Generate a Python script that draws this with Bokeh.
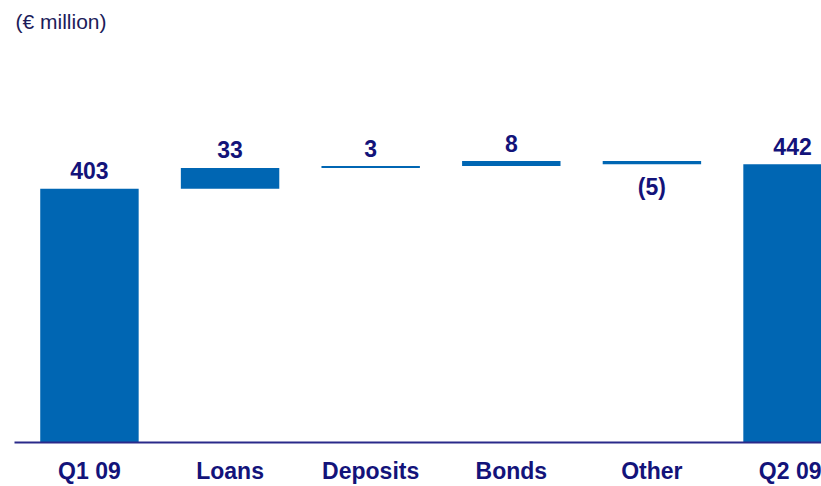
from bokeh.plotting import figure
from bokeh.models import ColumnDataSource, Range1d, FixedTicker, Label
from bokeh.core.properties import value
from bokeh.embed import file_html
from bokeh.resources import INLINE

# ---- data ----
categories = ["Q1 09", "Loans", "Deposits", "Bonds", "Other", "Q2 09"]
changes = [403, 33, 3, 8, -5, 442]
is_total = [True, False, False, False, False, True]
value_labels = ["403", "33", "3", "8", "(5)", "442"]

BAR_COLOR = "#0066b3"
TEXT_COLOR = "#13137a"
AXIS_COLOR = "#2a2a8a"
FONT = "Liberation Sans"

FRAME_H = 442
Y_MAX = 702
PPU = FRAME_H / Y_MAX  # pixels per data unit

# waterfall geometry
xs, bottoms, tops = [], [], []
running = 0
for i, (v, tot) in enumerate(zip(changes, is_total)):
    if tot:
        b, t = 0, v
        running = v
    else:
        b, t = running, running + v
        running = t
    xs.append(i)
    bottoms.append(min(b, t))
    tops.append(max(b, t))

bars = ColumnDataSource(dict(x=xs, bottom=bottoms, top=tops))

lab_x, lab_y, lab_t = [], [], []
for i, v in enumerate(changes):
    lab_x.append(xs[i])
    lab_t.append(value_labels[i])
    if v >= 0:
        lab_y.append(tops[i] + 18 / PPU)
    else:
        lab_y.append(bottoms[i] - 23 / PPU)

p = figure(width=821, height=486, output_backend="svg", toolbar_location=None,
           x_range=Range1d(-0.533, 5.206), y_range=Range1d(0, Y_MAX),
           min_border_left=14, min_border_right=0, min_border_top=0, min_border_bottom=0)
p.outline_line_color = None
p.background_fill_color = "white"
p.border_fill_color = "white"
p.xgrid.visible = False
p.ygrid.visible = False
p.yaxis.visible = False

p.vbar(x="x", bottom="bottom", top="top", width=0.7, source=bars,
       fill_color=BAR_COLOR, line_color=None)

p.text(x=lab_x, y=lab_y, text=lab_t, text_align="center", text_baseline="middle",
       text_font=value(FONT), text_font_style="bold", text_font_size="23px",
       text_color=TEXT_COLOR)

ax = p.xaxis[0]
ax.ticker = FixedTicker(ticks=list(range(len(categories))))
ax.major_label_overrides = {i: c for i, c in enumerate(categories)}
ax.major_tick_line_color = None
ax.minor_tick_line_color = None
ax.major_tick_out = 0
ax.major_tick_in = 0
ax.axis_line_color = AXIS_COLOR
ax.axis_line_width = 2
ax.major_label_standoff = 15
ax.major_label_text_font = FONT
ax.major_label_text_font_style = "bold"
ax.major_label_text_font_size = "23px"
ax.major_label_text_color = TEXT_COLOR

p.add_layout(Label(x=1, x_units="screen", y=(FRAME_H - 21) / PPU, y_units="data",
                   text="(€ million)", text_baseline="middle", text_font=FONT,
                   text_font_size="21px", text_color="#1c1c5a"))

open("out.html", "w").write(file_html(p, INLINE))
